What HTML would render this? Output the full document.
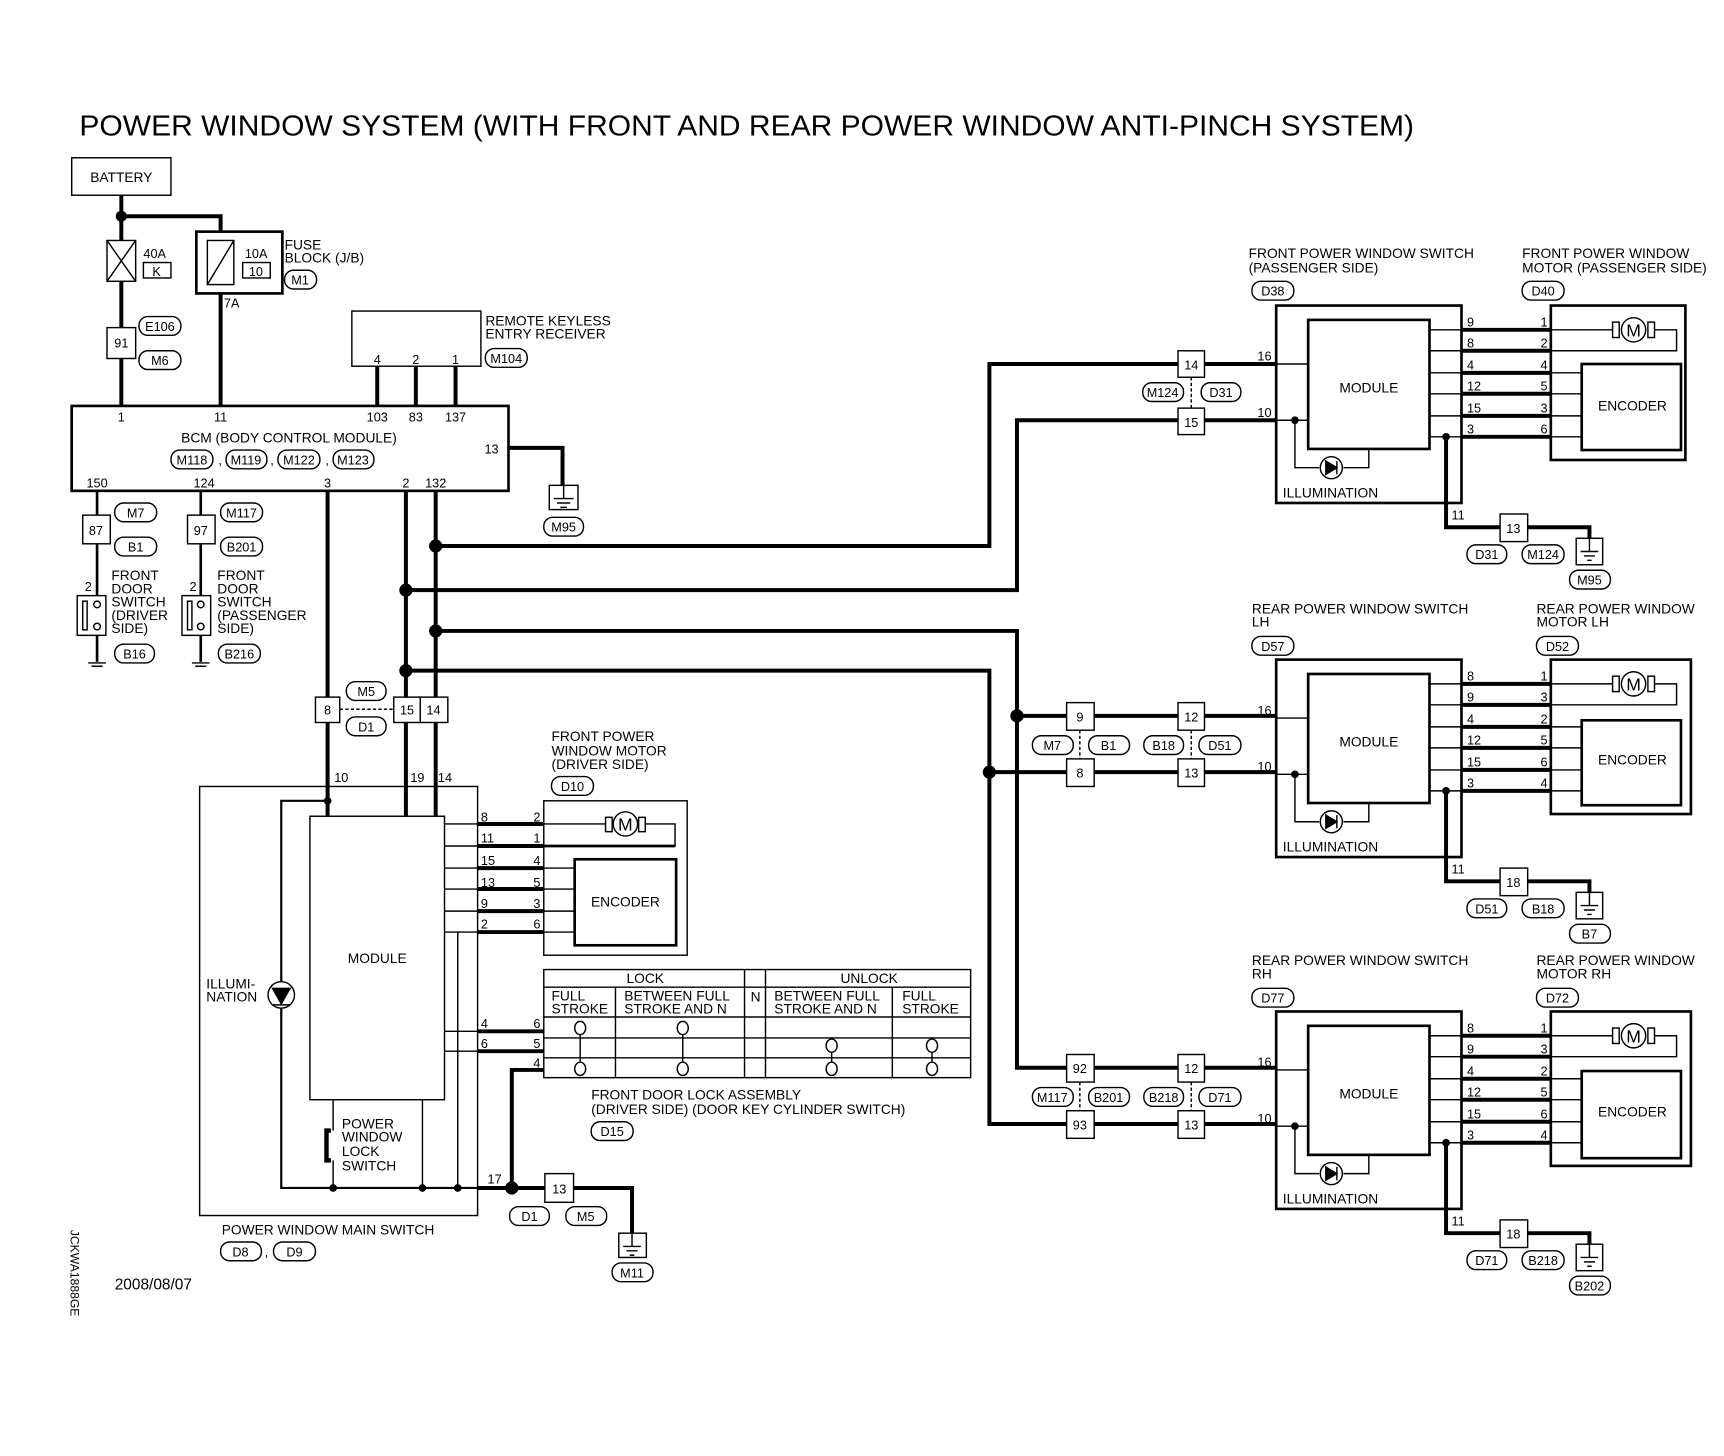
<!DOCTYPE html>
<html><head><meta charset="utf-8"><style>
html,body{margin:0;padding:0;background:#fff}
svg{display:block}
text{font-family:"Liberation Sans",Arial,sans-serif;fill:#000}
.t{font-size:12.5px}
.p{font-size:11.5px}
.o{fill:none;stroke:#000;stroke-width:1.3}
.n{fill:none;stroke:#000;stroke-width:1.3}
.k{fill:none;stroke:#000;stroke-width:3.6}
.b{fill:#fff;stroke:#000;stroke-width:1.3}
.bb{fill:#fff;stroke:#000;stroke-width:2.4}
</style></head><body>
<svg width="1724" height="1456" viewBox="0 0 1563 1320" xmlns="http://www.w3.org/2000/svg">
<rect width="1563" height="1320" fill="#fff"/>
<text x="72" y="123" font-size="26" textLength="1210" lengthAdjust="spacingAndGlyphs">POWER WINDOW SYSTEM (WITH FRONT AND REAR POWER WINDOW ANTI-PINCH SYSTEM)</text>

<!-- battery & fuses -->
<rect x="65" y="143" width="90" height="34" class="b"/>
<text x="110" y="165" class="t" text-anchor="middle">BATTERY</text>
<path d="M110 177V368" class="k"/>
<path d="M110 196H200V210" class="k"/>
<circle cx="110" cy="196" r="5"/>
<rect x="97" y="218" width="26" height="37" class="b"/>
<path d="M97 218L123 255M123 218L97 255" class="n"/>
<text x="130" y="234" class="p">40A</text>
<rect x="130" y="238" width="25" height="14" class="b"/><text x="142" y="250" class="p" text-anchor="middle">K</text>
<rect x="178" y="210" width="78" height="56" class="bb"/>
<rect x="188" y="218" width="24" height="40" class="b"/>
<path d="M188 258L212 218" class="n"/>
<text x="222" y="234" class="p">10A</text>
<rect x="220" y="238" width="25" height="14" class="b"/><text x="232" y="250" class="p" text-anchor="middle">10</text>
<text x="258" y="226" class="t">FUSE</text><text x="258" y="238" class="t">BLOCK (J/B)</text>
<rect x="258" y="245" width="29" height="17" rx="8" class="b"/><text x="272" y="258" class="p" text-anchor="middle">M1</text>
<text x="203" y="279" class="p">7A</text>
<path d="M200 266V368" class="k"/>
<rect x="97" y="297" width="26" height="28" class="b"/><text x="110" y="315" class="p" text-anchor="middle">91</text>
<rect x="126" y="287" width="38" height="17" rx="8" class="b"/><text x="145" y="300" class="p" text-anchor="middle">E106</text>
<rect x="126" y="318" width="38" height="17" rx="8" class="b"/><text x="145" y="331" class="p" text-anchor="middle">M6</text>

<!-- remote keyless -->
<rect x="319" y="282" width="117" height="50" class="b"/>
<text x="342" y="330" class="p" text-anchor="middle">4</text><text x="377" y="330" class="p" text-anchor="middle">2</text><text x="413" y="330" class="p" text-anchor="middle">1</text>
<path d="M342 332V368M377 332V368M413 332V368" class="k"/>
<text x="440" y="295" class="t">REMOTE KEYLESS</text><text x="440" y="307" class="t">ENTRY RECEIVER</text>
<rect x="440" y="316" width="38" height="17" rx="8" class="b"/><text x="459" y="329" class="p" text-anchor="middle">M104</text>

<!-- BCM -->
<rect x="65" y="368" width="396" height="77" class="bb"/>
<text x="110" y="382" class="p" text-anchor="middle">1</text>
<text x="200" y="382" class="p" text-anchor="middle">11</text>
<text x="342" y="382" class="p" text-anchor="middle">103</text>
<text x="377" y="382" class="p" text-anchor="middle">83</text>
<text x="413" y="382" class="p" text-anchor="middle">137</text>
<text x="262" y="401" class="t" text-anchor="middle">BCM (BODY CONTROL MODULE)</text>
<rect x="155" y="408" width="38" height="17" rx="8" class="b"/><text x="174" y="421" class="p" text-anchor="middle">M118</text>
<text x="198" y="421" class="p">,</text>
<rect x="205" y="408" width="37" height="17" rx="8" class="b"/><text x="223" y="421" class="p" text-anchor="middle">M119</text>
<text x="245" y="421" class="p">,</text>
<rect x="252" y="408" width="38" height="17" rx="8" class="b"/><text x="271" y="421" class="p" text-anchor="middle">M122</text>
<text x="295" y="421" class="p">,</text>
<rect x="302" y="408" width="37" height="17" rx="8" class="b"/><text x="320" y="421" class="p" text-anchor="middle">M123</text>
<text x="452" y="411" class="p" text-anchor="end">13</text>
<path d="M461 406H510V440" class="k"/>
<rect x="498" y="440" width="26" height="22" class="b"/>
<path d="M511 440V452M502 452H520M505 456H517M508 460H514" class="n"/>
<rect x="493" y="469" width="36" height="17" rx="8" class="b"/><text x="511" y="482" class="p" text-anchor="middle">M95</text>
<text x="88" y="442" class="p" text-anchor="middle">150</text>
<text x="185" y="442" class="p" text-anchor="middle">124</text>
<text x="297" y="442" class="p" text-anchor="middle">3</text>
<text x="368" y="442" class="p" text-anchor="middle">2</text>
<text x="395" y="442" class="p" text-anchor="middle">132</text>

<!-- door switches -->
<path d="M88 445V540M88 576V600" class="k" style="stroke-width:2.4"/>
<rect x="75" y="467" width="25" height="26" class="b"/><text x="87" y="485" class="p" text-anchor="middle">87</text>
<rect x="104" y="456" width="38" height="17" rx="8" class="b"/><text x="123" y="469" class="p" text-anchor="middle">M7</text>
<rect x="104" y="487" width="38" height="17" rx="8" class="b"/><text x="123" y="500" class="p" text-anchor="middle">B1</text>
<text x="80" y="536" class="p" text-anchor="middle">2</text>
<rect x="70" y="540" width="26" height="36" class="b"/>
<rect x="75" y="545" width="4" height="26" class="n"/>
<circle cx="88" cy="548" r="3" class="b"/><circle cx="88" cy="568" r="3" class="b"/>
<path d="M80 601H96M83 604H93" class="n"/>
<text x="101" y="526" class="t">FRONT</text><text x="101" y="538" class="t">DOOR</text><text x="101" y="550" class="t">SWITCH</text><text x="101" y="562" class="t">(DRIVER</text><text x="101" y="574" class="t"> SIDE)</text>
<rect x="104" y="584" width="36" height="17" rx="8" class="b"/><text x="122" y="597" class="p" text-anchor="middle">B16</text>

<path d="M182 445V540M182 576V600" class="k" style="stroke-width:2.4"/>
<rect x="170" y="467" width="25" height="26" class="b"/><text x="182" y="485" class="p" text-anchor="middle">97</text>
<rect x="200" y="456" width="38" height="17" rx="8" class="b"/><text x="219" y="469" class="p" text-anchor="middle">M117</text>
<rect x="200" y="487" width="38" height="17" rx="8" class="b"/><text x="219" y="500" class="p" text-anchor="middle">B201</text>
<text x="175" y="536" class="p" text-anchor="middle">2</text>
<rect x="165" y="540" width="26" height="36" class="b"/>
<rect x="170" y="545" width="4" height="26" class="n"/>
<circle cx="182" cy="548" r="3" class="b"/><circle cx="182" cy="568" r="3" class="b"/>
<path d="M174 601H190M177 604H187" class="n"/>
<text x="197" y="526" class="t">FRONT</text><text x="197" y="538" class="t">DOOR</text><text x="197" y="550" class="t">SWITCH</text><text x="197" y="562" class="t">(PASSENGER</text><text x="197" y="574" class="t"> SIDE)</text>
<rect x="198" y="584" width="38" height="17" rx="8" class="b"/><text x="217" y="597" class="p" text-anchor="middle">B216</text>

<!-- BCM downlines -->
<path d="M297 445V740M368 445V740M395 445V740" class="k"/>
<path d="M395 495H897V330H1157" class="k"/>
<path d="M368 535H922V381H1157" class="k"/>
<path d="M395 572H922V968H1157" class="k"/>
<path d="M368 608H897V1019H1157" class="k"/>
<path d="M922 649H1157M897 700H1157" class="k"/>
<circle cx="395" cy="495" r="6"/><circle cx="368" cy="535" r="6"/><circle cx="395" cy="572" r="6"/><circle cx="368" cy="608" r="6"/>
<circle cx="922" cy="649" r="6"/><circle cx="897" cy="700" r="6"/>
<rect x="286" y="632" width="22" height="23" class="b"/><text x="297" y="648" class="p" text-anchor="middle">8</text>
<rect x="357" y="632" width="24" height="23" class="b"/><text x="369" y="648" class="p" text-anchor="middle">15</text>
<rect x="381" y="632" width="25" height="23" class="b"/><text x="393" y="648" class="p" text-anchor="middle">14</text>
<path d="M308 643H357" class="n" stroke-dasharray="3,2"/>
<rect x="314" y="618" width="36" height="17" rx="8" class="b"/><text x="332" y="631" class="p" text-anchor="middle">M5</text>
<rect x="314" y="650" width="36" height="17" rx="8" class="b"/><text x="332" y="663" class="p" text-anchor="middle">D1</text>

<!-- main switch -->
<rect x="181" y="713" width="252" height="389" class="n"/>
<text x="303" y="709" class="p">10</text><text x="372" y="709" class="p">19</text><text x="397" y="709" class="p">14</text>
<rect x="281" y="740" width="122" height="257" class="n"/>
<text x="342" y="873" class="t" text-anchor="middle">MODULE</text>
<path d="M297 726H255V1077H464" class="o" style="stroke-width:2"/>
<circle cx="297" cy="726" r="3.5"/>
<circle cx="255" cy="902" r="12" class="b"/>
<path d="M247 896H263L255 910ZM247 911H263" fill="#000" stroke="#000" stroke-width="1.3"/>
<text x="187" y="896" class="t">ILLUMI-</text><text x="187" y="908" class="t">NATION</text>
<path d="M302 997V1025M302 1052V1077M383 997V1077" class="n"/>
<path d="M300 1025H296V1052H300" fill="none" stroke="#000" stroke-width="4"/>
<circle cx="302" cy="1077" r="3.5"/><circle cx="383" cy="1077" r="3.5"/><circle cx="415" cy="1077" r="3.5"/>
<text x="310" y="1023" class="t">POWER</text><text x="310" y="1035" class="t">WINDOW</text><text x="310" y="1048" class="t">LOCK</text><text x="310" y="1061" class="t">SWITCH</text>
<text x="442" y="1073" class="p">17</text>
<path d="M433 1077H494" class="k"/>
<circle cx="464" cy="1077" r="6"/>
<path d="M493 970H464V1077" class="k"/>
<rect x="494" y="1064" width="26" height="26" class="b"/><text x="507" y="1082" class="p" text-anchor="middle">13</text>
<path d="M520 1077H573V1118" class="k"/>
<rect x="561" y="1118" width="25" height="22" class="b"/>
<path d="M573 1118V1130M565 1130H581M568 1134H578M571 1138H575" class="n"/>
<rect x="555" y="1145" width="37" height="17" rx="8" class="b"/><text x="573" y="1158" class="p" text-anchor="middle">M11</text>
<rect x="462" y="1094" width="36" height="17" rx="8" class="b"/><text x="480" y="1107" class="p" text-anchor="middle">D1</text>
<rect x="513" y="1094" width="37" height="17" rx="8" class="b"/><text x="531" y="1107" class="p" text-anchor="middle">M5</text>
<text x="201" y="1119" class="t">POWER WINDOW MAIN SWITCH</text>
<rect x="200" y="1126" width="37" height="17" rx="8" class="b"/><text x="218" y="1139" class="p" text-anchor="middle">D8</text>
<text x="240" y="1139" class="p">,</text>
<rect x="248" y="1126" width="38" height="17" rx="8" class="b"/><text x="267" y="1139" class="p" text-anchor="middle">D9</text>
<text x="104" y="1169" font-size="14">2008/08/07</text>
<text x="0" y="0" font-size="11" transform="translate(64 1115) rotate(90)">JCKWA1888GE</text>

<!-- driver motor -->
<path d="M403 747H433M403 767H433M403 787H433M403 806H433M403 826H433M403 845H433M403 935H433M403 953H433" class="n"/>
<path d="M433 747H493M433 767H493M433 787H493M433 806H493M433 826H493M433 845H493M433 935H493M433 953H493" class="k"/>
<path d="M415 845V1077" class="n"/>
<text x="436" y="745" class="p">8</text><text x="436" y="764" class="p">11</text><text x="436" y="784" class="p">15</text><text x="436" y="804" class="p">13</text><text x="436" y="823" class="p">9</text><text x="436" y="842" class="p">2</text>
<text x="490" y="745" class="p" text-anchor="end">2</text><text x="490" y="764" class="p" text-anchor="end">1</text><text x="490" y="784" class="p" text-anchor="end">4</text><text x="490" y="804" class="p" text-anchor="end">5</text><text x="490" y="823" class="p" text-anchor="end">3</text><text x="490" y="842" class="p" text-anchor="end">6</text>
<text x="436" y="932" class="p">4</text><text x="436" y="950" class="p">6</text>
<text x="490" y="932" class="p" text-anchor="end">6</text><text x="490" y="950" class="p" text-anchor="end">5</text><text x="490" y="968" class="p" text-anchor="end">4</text>
<rect x="493" y="726" width="130" height="140" class="n"/>
<path d="M493 747H549M585 747H612V767H493" class="n"/>
<path d="M493 767H612" class="k" style="stroke-width:2.5"/>
<rect x="549" y="741" width="6" height="13" class="b"/><rect x="579" y="741" width="6" height="13" class="b"/>
<circle cx="567" cy="747" r="11" class="b"/><text x="567" y="753" font-size="16" text-anchor="middle">M</text>
<rect x="521" y="779" width="92" height="78" class="bb"/>
<text x="567" y="822" class="t" text-anchor="middle">ENCODER</text>
<path d="M493 787H521M493 806H521M493 826H521M493 845H521" class="n"/>
<text x="500" y="672" class="t">FRONT POWER</text><text x="500" y="685" class="t">WINDOW MOTOR</text><text x="500" y="697" class="t">(DRIVER SIDE)</text>
<rect x="500" y="704" width="38" height="17" rx="8" class="b"/><text x="519" y="717" class="p" text-anchor="middle">D10</text>

<!-- lock table -->
<rect x="493" y="879" width="387" height="98" class="n"/>
<path d="M493 895H880M493 922H880M493 941H880M493 959H880M558 895V977M675 879V977M694 879V977M809 895V977" class="n"/>
<text x="585" y="891" class="t" text-anchor="middle">LOCK</text>
<text x="788" y="891" class="t" text-anchor="middle">UNLOCK</text>
<text x="685" y="908" class="t" text-anchor="middle">N</text>
<text x="500" y="907" class="t">FULL</text><text x="500" y="919" class="t">STROKE</text>
<text x="566" y="907" class="t">BETWEEN FULL</text><text x="566" y="919" class="t">STROKE AND N</text>
<text x="702" y="907" class="t">BETWEEN FULL</text><text x="702" y="919" class="t">STROKE AND N</text>
<text x="818" y="907" class="t">FULL</text><text x="818" y="919" class="t">STROKE</text>
<path d="M526 932V969M619 932V969M754 950V969M845 950V969" class="n"/>
<ellipse cx="526" cy="932" rx="5" ry="6" class="b"/><ellipse cx="619" cy="932" rx="5" ry="6" class="b"/>
<ellipse cx="754" cy="948" rx="5" ry="6" class="b"/><ellipse cx="845" cy="948" rx="5" ry="6" class="b"/>
<ellipse cx="526" cy="969" rx="5" ry="6" class="b"/><ellipse cx="619" cy="969" rx="5" ry="6" class="b"/>
<ellipse cx="754" cy="969" rx="5" ry="6" class="b"/><ellipse cx="845" cy="969" rx="5" ry="6" class="b"/>
<text x="536" y="997" class="t">FRONT DOOR LOCK ASSEMBLY</text>
<text x="536" y="1010" class="t">(DRIVER SIDE) (DOOR KEY CYLINDER SWITCH)</text>
<rect x="536" y="1017" width="38" height="17" rx="8" class="b"/><text x="555" y="1030" class="p" text-anchor="middle">D15</text>

<!-- connectors to right blocks -->
<rect x="1068" y="318" width="24" height="24" class="b"/><text x="1080" y="335" class="p" text-anchor="middle">14</text>
<rect x="1068" y="370" width="24" height="24" class="b"/><text x="1080" y="387" class="p" text-anchor="middle">15</text>
<path d="M1080 342V370" class="n" stroke-dasharray="3,2"/>
<rect x="1036" y="347" width="37" height="17" rx="8" class="b"/><text x="1054" y="360" class="p" text-anchor="middle">M124</text>
<rect x="1089" y="347" width="36" height="17" rx="8" class="b"/><text x="1107" y="360" class="p" text-anchor="middle">D31</text>

<rect x="967" y="637" width="25" height="25" class="b"/><text x="979" y="654" class="p" text-anchor="middle">9</text>
<rect x="1068" y="637" width="24" height="25" class="b"/><text x="1080" y="654" class="p" text-anchor="middle">12</text>
<rect x="967" y="688" width="25" height="25" class="b"/><text x="979" y="705" class="p" text-anchor="middle">8</text>
<rect x="1068" y="688" width="24" height="25" class="b"/><text x="1080" y="705" class="p" text-anchor="middle">13</text>
<path d="M979 662V688M1080 662V688" class="n" stroke-dasharray="3,2"/>
<rect x="936" y="667" width="37" height="17" rx="8" class="b"/><text x="954" y="680" class="p" text-anchor="middle">M7</text>
<rect x="987" y="667" width="37" height="17" rx="8" class="b"/><text x="1005" y="680" class="p" text-anchor="middle">B1</text>
<rect x="1037" y="667" width="36" height="17" rx="8" class="b"/><text x="1055" y="680" class="p" text-anchor="middle">B18</text>
<rect x="1087" y="667" width="38" height="17" rx="8" class="b"/><text x="1106" y="680" class="p" text-anchor="middle">D51</text>

<rect x="967" y="956" width="25" height="25" class="b"/><text x="979" y="973" class="p" text-anchor="middle">92</text>
<rect x="1068" y="956" width="24" height="25" class="b"/><text x="1080" y="973" class="p" text-anchor="middle">12</text>
<rect x="967" y="1007" width="25" height="25" class="b"/><text x="979" y="1024" class="p" text-anchor="middle">93</text>
<rect x="1068" y="1007" width="24" height="25" class="b"/><text x="1080" y="1024" class="p" text-anchor="middle">13</text>
<path d="M979 981V1007M1080 981V1007" class="n" stroke-dasharray="3,2"/>
<rect x="936" y="986" width="37" height="17" rx="8" class="b"/><text x="954" y="999" class="p" text-anchor="middle">M117</text>
<rect x="987" y="986" width="37" height="17" rx="8" class="b"/><text x="1005" y="999" class="p" text-anchor="middle">B201</text>
<rect x="1037" y="986" width="36" height="17" rx="8" class="b"/><text x="1055" y="999" class="p" text-anchor="middle">B218</text>
<rect x="1087" y="986" width="38" height="17" rx="8" class="b"/><text x="1106" y="999" class="p" text-anchor="middle">D71</text>

<!-- headers -->
<text x="1132" y="234" class="t">FRONT POWER WINDOW SWITCH</text><text x="1132" y="247" class="t">(PASSENGER SIDE)</text>
<rect x="1135" y="255" width="38" height="17" rx="8" class="b"/><text x="1154" y="268" class="p" text-anchor="middle">D38</text>
<text x="1380" y="234" class="t">FRONT POWER WINDOW</text><text x="1380" y="247" class="t">MOTOR (PASSENGER SIDE)</text>
<rect x="1380" y="255" width="38" height="17" rx="8" class="b"/><text x="1399" y="268" class="p" text-anchor="middle">D40</text>

<text x="1135" y="556" class="t">REAR POWER WINDOW SWITCH</text><text x="1135" y="568" class="t">LH</text>
<rect x="1135" y="577" width="38" height="17" rx="8" class="b"/><text x="1154" y="590" class="p" text-anchor="middle">D57</text>
<text x="1393" y="556" class="t">REAR POWER WINDOW</text><text x="1393" y="568" class="t">MOTOR LH</text>
<rect x="1393" y="577" width="38" height="17" rx="8" class="b"/><text x="1412" y="590" class="p" text-anchor="middle">D52</text>

<text x="1135" y="875" class="t">REAR POWER WINDOW SWITCH</text><text x="1135" y="887" class="t">RH</text>
<rect x="1135" y="896" width="38" height="17" rx="8" class="b"/><text x="1154" y="909" class="p" text-anchor="middle">D77</text>
<text x="1393" y="875" class="t">REAR POWER WINDOW</text><text x="1393" y="887" class="t">MOTOR RH</text>
<rect x="1393" y="896" width="38" height="17" rx="8" class="b"/><text x="1412" y="909" class="p" text-anchor="middle">D72</text>

<!-- block FRONT (dy=0) -->
<g>
<rect x="1157" y="277" width="168" height="179" class="bb"/>
<rect x="1186" y="290" width="110" height="117" class="bb"/>
<text x="1241" y="356" class="t" text-anchor="middle">MODULE</text>
<text x="1140" y="327" class="p">16</text><text x="1140" y="378" class="p">10</text>
<path d="M1157 330H1186M1157 381H1186M1174 381V424H1196M1218 424H1241V407" class="n"/>
<circle cx="1174" cy="381" r="3.5"/>
<circle cx="1207" cy="424" r="10" class="b"/><path d="M1202 418V430L1212 424ZM1212 418V430" fill="#000" stroke="#000" stroke-width="1.3"/>
<text x="1163" y="451" class="t">ILLUMINATION</text>
<path d="M1296 299H1325M1296 318H1325M1296 338H1325M1296 357H1325M1296 377H1325M1296 396H1325" class="n"/>
<path d="M1325 299H1406M1325 318H1406M1325 338H1406M1325 357H1406M1325 377H1406M1325 396H1406" class="k"/>
<text x="1330" y="296" class="p">9</text><text x="1330" y="315" class="p">8</text><text x="1330" y="335" class="p">4</text><text x="1330" y="354" class="p">12</text><text x="1330" y="374" class="p">15</text><text x="1330" y="393" class="p">3</text>
<text x="1403" y="296" class="p" text-anchor="end">1</text><text x="1403" y="315" class="p" text-anchor="end">2</text><text x="1403" y="335" class="p" text-anchor="end">4</text><text x="1403" y="354" class="p" text-anchor="end">5</text><text x="1403" y="374" class="p" text-anchor="end">3</text><text x="1403" y="393" class="p" text-anchor="end">6</text>
<rect x="1406" y="277" width="122" height="140" class="bb"/>
<path d="M1406 299H1462M1500 299H1520V318H1406M1406 338H1434M1406 357H1434M1406 377H1434M1406 396H1434" class="n"/>
<rect x="1462" y="292" width="6" height="14" class="b"/><rect x="1494" y="292" width="6" height="14" class="b"/>
<circle cx="1481" cy="299" r="11" class="b"/><text x="1481" y="305" font-size="16" text-anchor="middle">M</text>
<rect x="1434" y="330" width="90" height="78" class="bb"/>
<text x="1480" y="372" class="t" text-anchor="middle">ENCODER</text>
<circle cx="1311" cy="396" r="3.5"/>
<path d="M1311 396V478H1360M1385 478H1441V488" class="k"/>
<text x="1316" y="471" class="p">11</text>
<rect x="1360" y="466" width="25" height="25" class="b"/><text x="1372" y="483" class="p" text-anchor="middle">13</text>
<rect x="1429" y="488" width="24" height="24" class="b"/><path d="M1441 488V500M1433 500H1449M1436 504H1446M1439 508H1443" class="n"/>
<rect x="1330" y="494" width="36" height="17" rx="8" class="b"/><text x="1348" y="507" class="p" text-anchor="middle">D31</text>
<rect x="1380" y="494" width="38" height="17" rx="8" class="b"/><text x="1399" y="507" class="p" text-anchor="middle">M124</text>
<rect x="1423" y="517" width="37" height="17" rx="8" class="b"/><text x="1441" y="530" class="p" text-anchor="middle">M95</text>
</g>

<!-- block REAR LH (dy=321) -->
<g transform="translate(0 321)">
<rect x="1157" y="277" width="168" height="179" class="bb"/>
<rect x="1186" y="290" width="110" height="117" class="bb"/>
<text x="1241" y="356" class="t" text-anchor="middle">MODULE</text>
<text x="1140" y="327" class="p">16</text><text x="1140" y="378" class="p">10</text>
<path d="M1157 330H1186M1157 381H1186M1174 381V424H1196M1218 424H1241V407" class="n"/>
<circle cx="1174" cy="381" r="3.5"/>
<circle cx="1207" cy="424" r="10" class="b"/><path d="M1202 418V430L1212 424ZM1212 418V430" fill="#000" stroke="#000" stroke-width="1.3"/>
<text x="1163" y="451" class="t">ILLUMINATION</text>
<path d="M1296 299H1325M1296 318H1325M1296 338H1325M1296 357H1325M1296 377H1325M1296 396H1325" class="n"/>
<path d="M1325 299H1406M1325 318H1406M1325 338H1406M1325 357H1406M1325 377H1406M1325 396H1406" class="k"/>
<text x="1330" y="296" class="p">8</text><text x="1330" y="315" class="p">9</text><text x="1330" y="335" class="p">4</text><text x="1330" y="354" class="p">12</text><text x="1330" y="374" class="p">15</text><text x="1330" y="393" class="p">3</text>
<text x="1403" y="296" class="p" text-anchor="end">1</text><text x="1403" y="315" class="p" text-anchor="end">3</text><text x="1403" y="335" class="p" text-anchor="end">2</text><text x="1403" y="354" class="p" text-anchor="end">5</text><text x="1403" y="374" class="p" text-anchor="end">6</text><text x="1403" y="393" class="p" text-anchor="end">4</text>
<rect x="1406" y="277" width="127" height="140" class="bb"/>
<path d="M1406 299H1462M1500 299H1520V318H1406M1406 338H1434M1406 357H1434M1406 377H1434M1406 396H1434" class="n"/>
<rect x="1462" y="292" width="6" height="14" class="b"/><rect x="1494" y="292" width="6" height="14" class="b"/>
<circle cx="1481" cy="299" r="11" class="b"/><text x="1481" y="305" font-size="16" text-anchor="middle">M</text>
<rect x="1434" y="332" width="90" height="77" class="bb"/>
<text x="1480" y="372" class="t" text-anchor="middle">ENCODER</text>
<circle cx="1311" cy="396" r="3.5"/>
<path d="M1311 396V478H1360M1385 478H1441V488" class="k"/>
<text x="1316" y="471" class="p">11</text>
<rect x="1360" y="466" width="25" height="25" class="b"/><text x="1372" y="483" class="p" text-anchor="middle">18</text>
<rect x="1429" y="488" width="24" height="24" class="b"/><path d="M1441 488V500M1433 500H1449M1436 504H1446M1439 508H1443" class="n"/>
<rect x="1330" y="494" width="36" height="17" rx="8" class="b"/><text x="1348" y="507" class="p" text-anchor="middle">D51</text>
<rect x="1380" y="494" width="38" height="17" rx="8" class="b"/><text x="1399" y="507" class="p" text-anchor="middle">B18</text>
<rect x="1423" y="517" width="37" height="17" rx="8" class="b"/><text x="1441" y="530" class="p" text-anchor="middle">B7</text>
</g>

<!-- block REAR RH (dy=640) -->
<g transform="translate(0 640)">
<rect x="1157" y="277" width="168" height="179" class="bb"/>
<rect x="1186" y="290" width="110" height="117" class="bb"/>
<text x="1241" y="356" class="t" text-anchor="middle">MODULE</text>
<text x="1140" y="327" class="p">16</text><text x="1140" y="378" class="p">10</text>
<path d="M1157 330H1186M1157 381H1186M1174 381V424H1196M1218 424H1241V407" class="n"/>
<circle cx="1174" cy="381" r="3.5"/>
<circle cx="1207" cy="424" r="10" class="b"/><path d="M1202 418V430L1212 424ZM1212 418V430" fill="#000" stroke="#000" stroke-width="1.3"/>
<text x="1163" y="451" class="t">ILLUMINATION</text>
<path d="M1296 299H1325M1296 318H1325M1296 338H1325M1296 357H1325M1296 377H1325M1296 396H1325" class="n"/>
<path d="M1325 299H1406M1325 318H1406M1325 338H1406M1325 357H1406M1325 377H1406M1325 396H1406" class="k"/>
<text x="1330" y="296" class="p">8</text><text x="1330" y="315" class="p">9</text><text x="1330" y="335" class="p">4</text><text x="1330" y="354" class="p">12</text><text x="1330" y="374" class="p">15</text><text x="1330" y="393" class="p">3</text>
<text x="1403" y="296" class="p" text-anchor="end">1</text><text x="1403" y="315" class="p" text-anchor="end">3</text><text x="1403" y="335" class="p" text-anchor="end">2</text><text x="1403" y="354" class="p" text-anchor="end">5</text><text x="1403" y="374" class="p" text-anchor="end">6</text><text x="1403" y="393" class="p" text-anchor="end">4</text>
<rect x="1406" y="277" width="127" height="140" class="bb"/>
<path d="M1406 299H1462M1500 299H1520V318H1406M1406 338H1434M1406 357H1434M1406 377H1434M1406 396H1434" class="n"/>
<rect x="1462" y="292" width="6" height="14" class="b"/><rect x="1494" y="292" width="6" height="14" class="b"/>
<circle cx="1481" cy="299" r="11" class="b"/><text x="1481" y="305" font-size="16" text-anchor="middle">M</text>
<rect x="1434" y="331" width="90" height="79" class="bb"/>
<text x="1480" y="372" class="t" text-anchor="middle">ENCODER</text>
<circle cx="1311" cy="396" r="3.5"/>
<path d="M1311 396V478H1360M1385 478H1441V488" class="k"/>
<text x="1316" y="471" class="p">11</text>
<rect x="1360" y="466" width="25" height="25" class="b"/><text x="1372" y="483" class="p" text-anchor="middle">18</text>
<rect x="1429" y="488" width="24" height="24" class="b"/><path d="M1441 488V500M1433 500H1449M1436 504H1446M1439 508H1443" class="n"/>
<rect x="1330" y="494" width="36" height="17" rx="8" class="b"/><text x="1348" y="507" class="p" text-anchor="middle">D71</text>
<rect x="1380" y="494" width="38" height="17" rx="8" class="b"/><text x="1399" y="507" class="p" text-anchor="middle">B218</text>
<rect x="1423" y="517" width="37" height="17" rx="8" class="b"/><text x="1441" y="530" class="p" text-anchor="middle">B202</text>
</g>
</svg>
</body></html>
